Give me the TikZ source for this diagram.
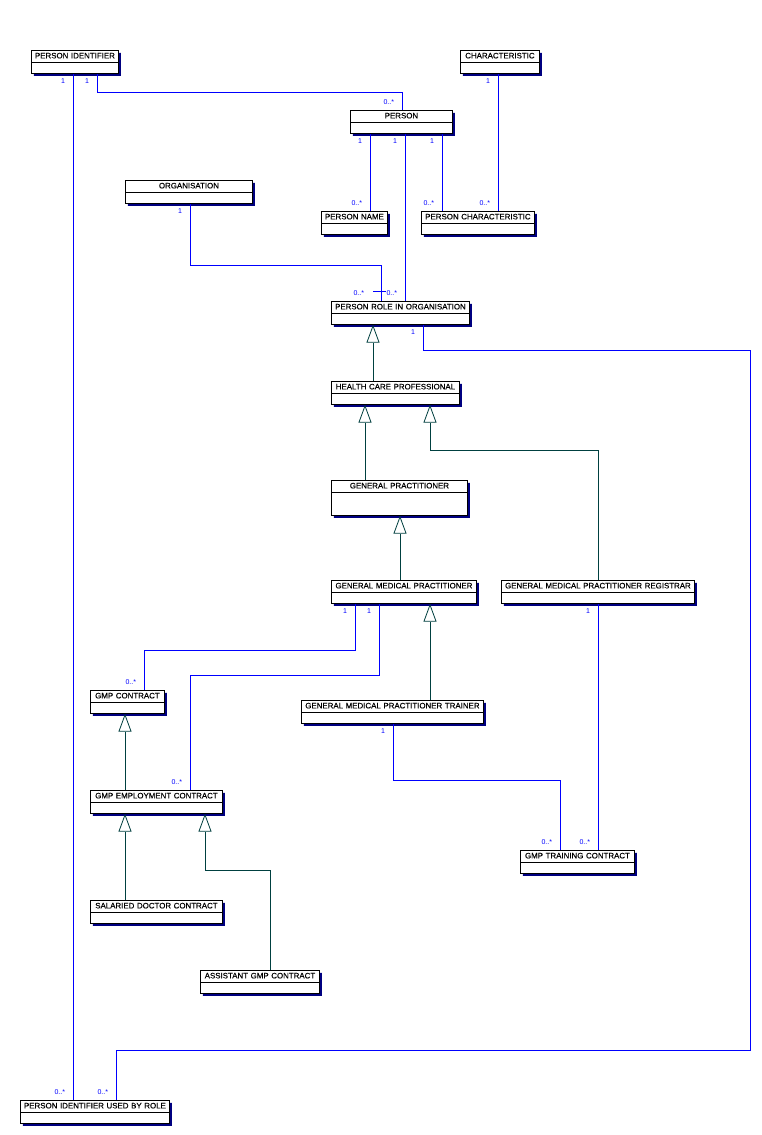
\documentclass[tikz,border=0pt]{standalone}
\usepackage{fontspec}
\setmainfont{Liberation Sans}
\newfontfamily\clsfamily[FakeBold=0.3]{Liberation Sans}
\usetikzlibrary{arrows.meta, positioning, shapes.multipart, shadows}
\definecolor{assocblue}{RGB}{0,0,255}
\definecolor{genteal}{RGB}{0,64,64}
\definecolor{shadownavy}{RGB}{0,0,128}

\begin{document}
\begin{tikzpicture}[x=1pt, y=-1pt,
    cls/.style={rectangle split, rectangle split parts=2, draw, line width=0.9pt, fill=white,
      text width=#1, align=center, inner xsep=1pt, inner ysep=1.5pt, anchor=north west,
      font=\clsfamily\fontsize{7.9}{9}\selectfont,
      rectangle split empty part height=7pt, rectangle split empty part depth=0pt,
      execute at begin node={\rule[-2pt]{0pt}{8pt}},
      drop shadow={shadow xshift=2.5pt, shadow yshift=-2.5pt, fill=shadownavy, opacity=1}},
    mult/.style={font=\fontsize{7}{8}\selectfont, text=assocblue, inner sep=0pt},
    one/.style={mult, below left=4.5pt and 7.5pt},
    many/.style={mult, above left=5.5pt and 7.5pt},
    assoc/.style={draw=assocblue, line width=0.8pt},
    gen/.style={draw=genteal, line width=0.8pt, -{Triangle[open, length=18pt, width=13pt]}}]
    \fill[white] (0,0) rectangle (762,1135);
    \useasboundingbox (0,0) rectangle (762,1135);

    % classes
    \node[cls=85pt] (pi) at (31,50) {PERSON IDENTIFIER};
    \node[cls=77pt] (ch) at (460,50) {CHARACTERISTIC};
    \node[cls=100pt] (person) at (350,110) {PERSON};
    \node[cls=125pt] (org) at (125,180) {ORGANISATION};
    \node[cls=64pt] (pname) at (321,211) {PERSON NAME};
    \node[cls=111pt] (pchar) at (421,211) {PERSON CHARACTERISTIC};
    \node[cls=136pt] (prio) at (331,301) {PERSON ROLE IN ORGANISATION};
    \node[cls=126pt] (hcp) at (331,381) {HEALTH CARE PROFESSIONAL};
    \node[cls=134pt, rectangle split empty part height=19pt] (gp) at (331,480) {GENERAL PRACTITIONER};
    \node[cls=143pt] (gmp) at (331,580) {GENERAL MEDICAL PRACTITIONER};
    \node[cls=191pt] (gmpr) at (501,580) {GENERAL MEDICAL PRACTITIONER REGISTRAR};
    \node[cls=72pt] (gmpc) at (90,690) {GMP CONTRACT};
    \node[cls=180pt] (gmpt) at (301,700) {GENERAL MEDICAL PRACTITIONER TRAINER};
    \node[cls=130pt] (gmpec) at (90,790) {GMP EMPLOYMENT CONTRACT};
    \node[cls=112pt] (gmptc) at (520,850) {GMP TRAINING CONTRACT};
    \node[cls=130pt] (sdc) at (90,900) {SALARIED DOCTOR CONTRACT};
    \node[cls=117pt] (agmpc) at (200,970) {ASSISTANT GMP CONTRACT};
    \node[cls=147pt] (piubr) at (20,1100) {PERSON IDENTIFIER USED BY ROLE};

    % associations
    \draw[assoc] (pi.south -| 97,0) node[one] {1} -- ++(0,19) -| (person.north -| 402,0) node[many] {0..*};
    \draw[assoc] (pi.south -| 73,0) node[one] {1} -- (piubr.north -| 73,0) node[many] {0..*};
    \draw[assoc] (ch.south -| 498,0) node[one] {1} -- (pchar.north -| 498,0) node[many] {0..*};
    \draw[assoc] (person.south -| 370,0) node[one] {1} -- (pname.north -| 370,0) node[many] {0..*};
    \draw[assoc] (person.south -| 442,0) node[one] {1} -- (pchar.north -| 442,0) node[many] {0..*};
    \draw[assoc] (person.south -| 405,0) node[one] {1} -- (prio.north -| 405,0) node[many] {0..*};
    \draw[assoc] (org.south -| 190,0) node[one] {1} -- (190,265) -| (prio.north -| 381,0)
        node[mult, above left=5.5pt and 16.5pt] {0..*} ++(-8,-10) -- ++(13,0);
    \draw[assoc] (prio.south -| 423,0) node[one] {1} -- (423,350) -- (750,350) -- (750,1050)
        -| (piubr.north -| 116,0) node[many] {0..*};
    \draw[assoc] (gmp.south -| 355,0) node[one] {1} -- (355,650) -| (gmpc.north -| 144,0) node[many] {0..*};
    \draw[assoc] (gmp.south -| 379,0) node[one] {1} -- (379,675) -| (gmpec.north -| 190,0) node[many] {0..*};
    \draw[assoc] (gmpt.south -| 393,0) node[one] {1} -- (393,780) -| (gmptc.north -| 560,0) node[many] {0..*};
    \draw[assoc] (gmpr.south -| 598,0) node[one] {1} -- (gmptc.north -| 598,0) node[many] {0..*};

    % generalisations
    \draw[gen] (hcp.north -| 373,0) -- (prio.south -| 373,0);
    \draw[gen] (gp.north -| 365,0) -- (hcp.south -| 365,0);
    \draw[gen] (gmpr.north -| 598,0) |- (430,450) -- (hcp.south -| 430,0);
    \draw[gen] (gmp.north -| 400,0) -- (gp.south -| 400,0);
    \draw[gen] (gmpt.north -| 430,0) -- (gmp.south -| 430,0);
    \draw[gen] (gmpec.north -| 125,0) -- (gmpc.south -| 125,0);
    \draw[gen] (sdc.north -| 125,0) -- (gmpec.south -| 125,0);
    \draw[gen] (agmpc.north -| 270,0) |- (205,870) -- (gmpec.south -| 205,0);
\end{tikzpicture}
\end{document}
